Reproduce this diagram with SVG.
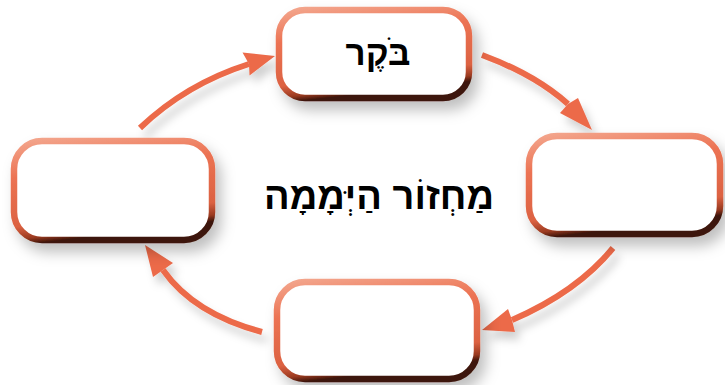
<svg xmlns="http://www.w3.org/2000/svg" width="725" height="385" viewBox="0 0 725 385">
  <defs>
    <linearGradient id="rim" x1="0" y1="0" x2="0.25" y2="1">
      <stop offset="0" stop-color="#f3a58c"/>
      <stop offset="0.35" stop-color="#ec7353"/>
      <stop offset="0.82" stop-color="#dc6242"/>
      <stop offset="0.94" stop-color="#9a3a20"/>
      <stop offset="1" stop-color="#3e150a"/>
    </linearGradient>
    <filter id="shadow" x="-20%" y="-20%" width="140%" height="150%">
      <feDropShadow dx="6" dy="9" stdDeviation="7" flood-color="#000" flood-opacity="0.25"/>
    </filter>
    <filter id="ashadow" x="-20%" y="-20%" width="140%" height="150%">
      <feDropShadow dx="5" dy="8" stdDeviation="4" flood-color="#000" flood-opacity="0.18"/>
    </filter>
  </defs>
  <style>
    .box { fill: #ffffff; stroke: url(#rim); stroke-width: 6.5; filter: url(#shadow); }
    .shaft { fill: none; stroke: #ec6a4a; stroke-width: 6; }
    .head { fill: #ec6a4a; stroke: none; }
    .lbl { font-family: "Liberation Sans", "DejaVu Sans", sans-serif; font-weight: bold; fill: #000; text-anchor: middle; direction: rtl; }
  </style>
  <rect width="725" height="385" fill="#ffffff"/>

  <g id="connectors" filter="url(#ashadow)">
    <path class="shaft" d="M140,128 Q186,84 249,64"/>
    <polygon class="head" points="275,56 242.5,52.5 249,64 249.5,75.5"/>
    <path class="shaft" d="M482,55 Q535,74.5 568,104"/>
    <polygon class="head" points="592,130 578,98 568,104 560,113"/>
    <path class="shaft" d="M613,248 Q577,292 512,320"/>
    <polygon class="head" points="482,330 508,309 512,320 515,332"/>
    <path class="shaft" d="M262,332 Q194,314 163,270"/>
    <polygon class="head" points="145,245 153,277 163,270 173,263"/>
  </g>

  <g id="node-morning">
    <rect class="box" x="279" y="10" width="190" height="88" rx="26"/>
    <text class="lbl" x="378" y="65" font-size="35">בֹּקֶר</text>
  </g>
  <g id="node-right">
    <rect class="box" x="529" y="136" width="191" height="98" rx="28"/>
  </g>
  <g id="node-bottom">
    <rect class="box" x="277" y="282" width="200" height="97" rx="28"/>
  </g>
  <g id="node-left">
    <rect class="box" x="14" y="141" width="198" height="99" rx="28"/>
  </g>
  <g id="title">
    <text class="lbl" x="379" y="209" font-size="38">מַחְזוֹר הַיְּמָמָה</text>
  </g>
</svg>
